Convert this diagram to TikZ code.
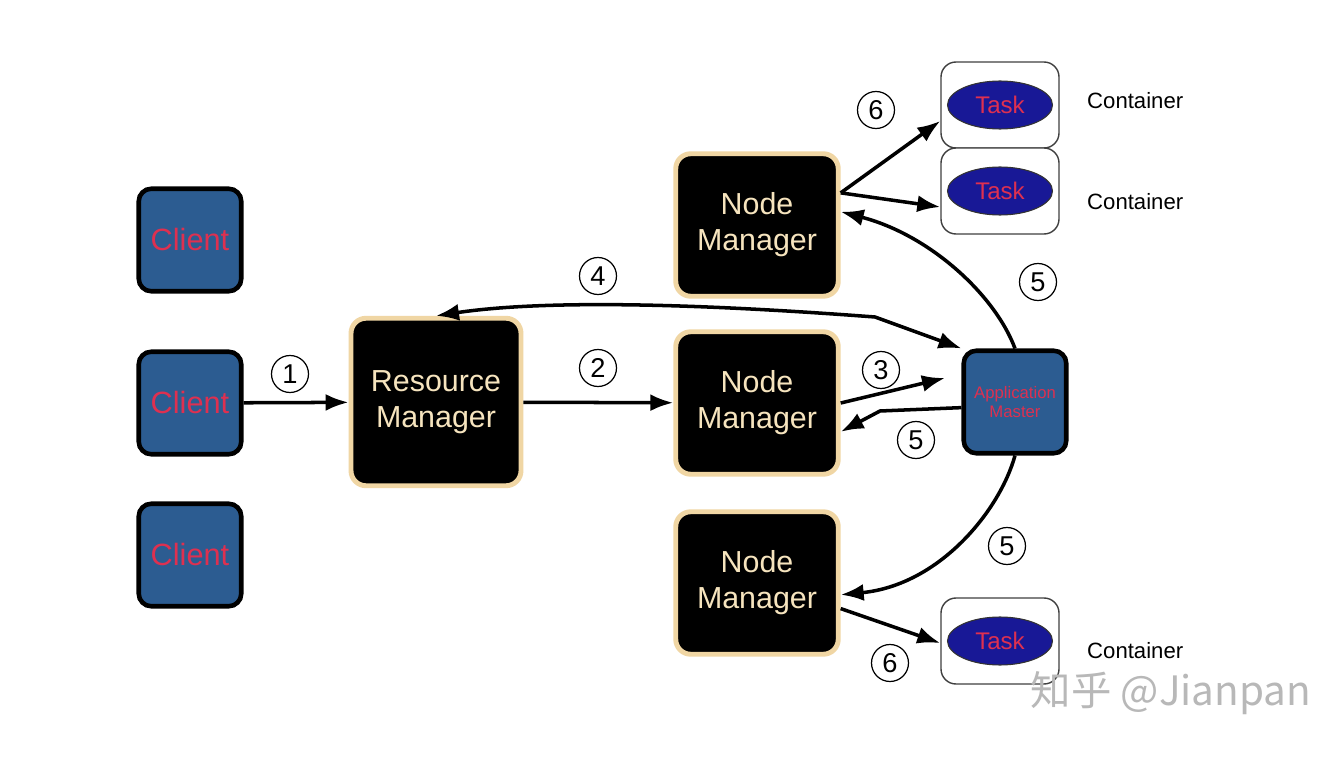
\documentclass[tikz,border=0pt]{standalone}
\usepackage{fontspec}
\setmainfont{Liberation Sans}
\newfontfamily\cjk{Noto Sans CJK SC}
\usetikzlibrary{shapes.geometric,arrows.meta}

\definecolor{clientblue}{RGB}{44,92,145}
\definecolor{labelred}{RGB}{222,48,80}
\definecolor{mgrtan}{RGB}{240,214,164}
\definecolor{mgrtext}{RGB}{246,228,190}
\definecolor{taskblue}{RGB}{24,24,150}

\begin{document}
\begin{tikzpicture}[
		>={Latex[length=4.6mm,width=3.4mm]},
		link/.style={line width=2pt},
		client/.style={draw=black,line width=2.6pt,fill=clientblue,rounded corners=0.25cm,
			minimum width=2.05cm,minimum height=2.05cm,text=labelred,font=\fontsize{17.5}{20}\selectfont},
		manager/.style={draw=mgrtan,line width=2.8pt,fill=black,rounded corners=0.3cm,
			minimum width=3.25cm,minimum height=2.85cm,text=mgrtext,align=center,
			font=\fontsize{17.3}{20.5}\selectfont},
		master/.style={client,align=center,font=\fontsize{9.5}{11}\selectfont},
		container/.style={draw=black!75,line width=0.8pt,fill=white,rounded corners=0.3cm,
			minimum width=2.36cm,minimum height=1.72cm},
		task/.style={ellipse,draw=black!80,line width=0.6pt,fill=taskblue,text=labelred,
			minimum width=2.1cm,minimum height=0.96cm,inner sep=0pt,font=\fontsize{13.7}{15}\selectfont},
		num/.style={circle,draw,line width=0.7pt,minimum size=0.74cm,inner sep=0pt,
			font=\fontsize{15.5}{15.5}\selectfont}
	]
		\useasboundingbox[fill=white] (0,0) rectangle (26.4,15.2);

		% Clients
		\node[client] (client1) at (3.8,10.4) {Client};
		\node[client] (client2) at (3.8,7.14) {Client};
		\node[client] (client3) at (3.8,4.1) {Client};

		% Resource manager and node managers
		\node[manager,minimum width=3.4cm,minimum height=3.35cm] (rm) at (8.72,7.16) {Resource\\Manager};
		\node[manager] (nm1) at (15.14,10.7) {Node\\Manager};
		\node[manager] (nm2) at (15.14,7.14) {Node\\Manager};
		\node[manager] (nm3) at (15.14,3.54) {Node\\Manager};

		% Application master
		\node[master] (am) at (20.3,7.16) {Application\\Master};

		% Containers
		\node[container] (cont1) at (20,13.1) {};
		\node[container] (cont2) at (20,11.38) {};
		\node[container] (cont3) at (20,2.38) {};
		\node[task] (task1) at (cont1) {Task};
		\node[task] (task2) at (cont2) {Task};
		\node[task] (task3) at (cont3) {Task};
		\node[anchor=west,font=\fontsize{12.6}{14}\selectfont] (lab1) at (21.62,13.18) {Container};
		\node[anchor=west,font=\fontsize{12.6}{14}\selectfont] (lab2) at (21.62,11.16) {Container};
		\node[anchor=west,font=\fontsize{12.6}{14}\selectfont] (lab3) at (21.62,2.18) {Container};

		% Connectors
		\coordinate (amin) at (18.9,7.64);
		\coordinate (bend4) at (17.5,8.86);
		\coordinate (bend5) at (17.6,6.98);
		\draw[link,->] (client2) -- (rm);
		\draw[link,->] (rm) -- (nm2);
		\draw[link,->] (nm2.east) -- (amin);
		\draw[link,<->] (rm.north) .. controls (10.5,9.15) and (13,9.2) .. (bend4) -- (am.north west);
		\draw[link,->] (am.north) .. controls (19.9,9.3) and (18.6,10.5) .. (nm1.9);
		\draw[link,->] (am.186) -- (bend5) -- (nm2.341);
		\draw[link,->] (am.south) .. controls (20,5) and (18.8,3.5) .. (nm3.352);
		\draw[link,->] (nm1.21) -- (cont1.195);
		\draw[link,->] (nm1.21) -- (cont2.195);
		\draw[link,->] (nm3.343) -- (cont3.182);

		% Step numbers
		\node[num] (n1) at (5.8,7.72) {1};
		\node[num] (n2) at (11.96,7.84) {2};
		\node[num] (n3) at (17.62,7.8) {3};
		\node[num] (n4) at (11.96,9.68) {4};
		\node[num] (n5a) at (20.76,9.56) {5};
		\node[num] (n5b) at (18.32,6.4) {5};
		\node[num] (n5c) at (20.14,4.28) {5};
		\node[num] (n6a) at (17.52,13) {6};
		\node[num] (n6b) at (17.8,1.94) {6};

		% Watermark
		\node[text=black!28,font=\cjk\fontsize{23}{23}\selectfont] (mark) at (23.42,1.34) {知乎 @Jianpan};
	\end{tikzpicture}
\end{document}
